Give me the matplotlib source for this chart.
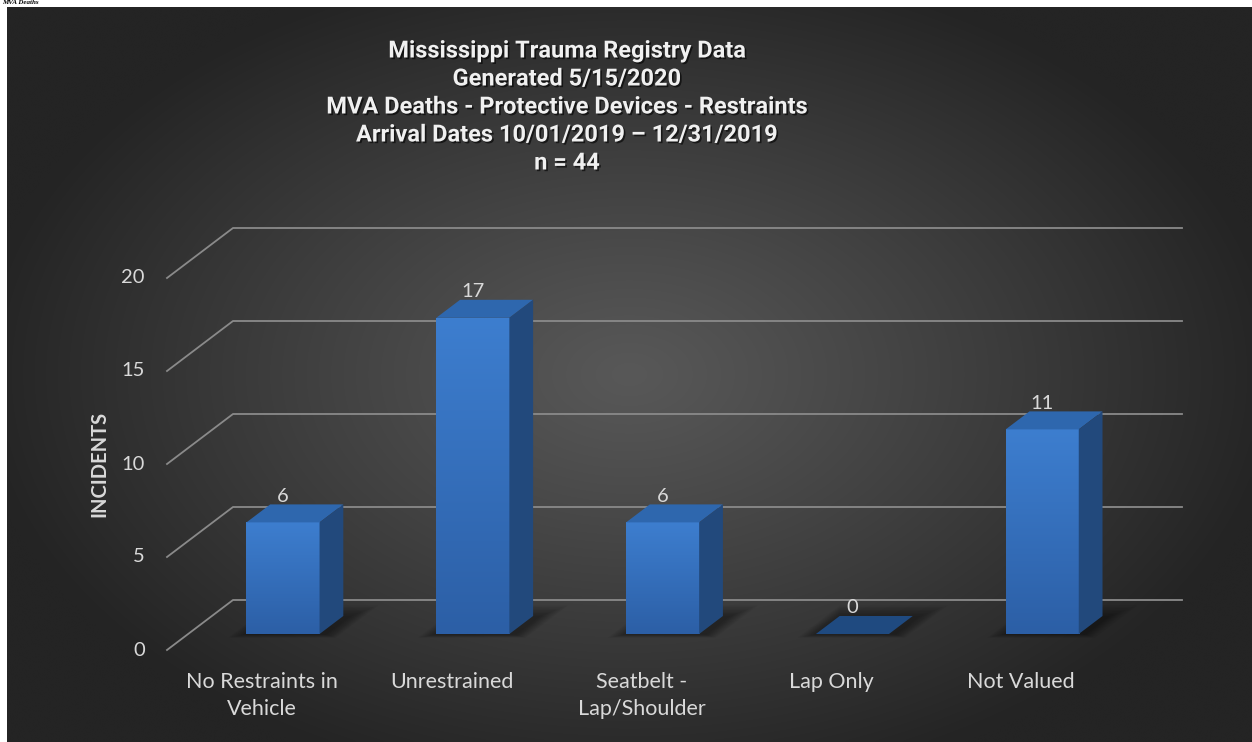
import numpy as np
import matplotlib.pyplot as plt
from matplotlib.patches import Polygon
from matplotlib import patheffects as pe

# chart data
categories = ['No Restraints in\nVehicle', 'Unrestrained', 'Seatbelt -\nLap/Shoulder', 'Lap Only', 'Not Valued']
incidents = [6, 17, 6, 0, 11]
y_ticks = [0, 5, 10, 15, 20]
title_lines = ['Mississippi Trauma Registry Data',
               'Generated 5/15/2020',
               'MVA Deaths - Protective Devices - Restraints',
               'Arrival Dates 10/01/2019 \u2013 12/31/2019',
               'n = 44']

W, H = 1252, 742
fig = plt.figure(figsize=(W / 100, H / 100), dpi=100, facecolor='white')

# dark panel with radial gradient
bg = fig.add_axes([7 / W, 0, 1 - 7 / W, (H - 7) / H])
bg.set_axis_off()
gx, gy = np.meshgrid(np.linspace(-1, 1, 400), np.linspace(-1, 1, 240))
r = np.clip(np.sqrt((gx / 1.05) ** 2 + (gy / 1.15) ** 2), 0, 1)
c0, c1 = np.array([0x58, 0x58, 0x58]) / 255, np.array([0x24, 0x24, 0x24]) / 255
img = c0 + (c1 - c0) * (r[..., None] ** 1.1)
bg.imshow(img, aspect='auto', extent=[0, 1, 0, 1], interpolation='bicubic')

# heading of the page above the chart (squeezed into the white strip)
fig.text(2 / W, 1, 'MVA Deaths', fontsize=5, fontweight='bold', style='italic',
         family='Liberation Serif', color='black', va='top')

# back wall of the 3d chart
ax = fig.add_axes([233 / W, (H - 600) / H, 949 / W, 372 / H])
ax.set_axis_off()
ax.set_xlim(-0.5, 4.5)
ax.set_ylim(0, 20)

DX = 66 / 189.8   # full depth shift in x data units
DY = 50 / 18.6    # full depth shift in y data units
ZF, ZB = 0.68, 0.32
BW = 0.385


def proj(x, y, z):
    return x - z * DX, y - z * DY


grid_col = '#8a8a8a'
for v in y_ticks:
    x0, y0 = proj(-0.5, v, 1)
    x1, y1 = proj(-0.5, v, 0)
    x2, y2 = proj(4.5, v, 0)
    ax.plot([x0, x1, x2], [y0, y1, y2], color=grid_col, lw=1.3, clip_on=False, zorder=1)
    ax.annotate(str(v), (x0, y0), xytext=(-16, 0), textcoords='offset points',
                ha='right', va='center', fontsize=14.5, family='Lato', color='#d9d9d9',
                annotation_clip=False)

lx0, ly0 = proj(-0.5, 10, 1)
ax.text(lx0 - 68 / 189.8, ly0, 'INCIDENTS', rotation=90, fontsize=14.5, fontweight='bold',
        family='Lato', color='#d9d9d9', ha='center', va='center')

# soft shadows on the floor
for i, v in enumerate(incidents):
    for k in range(8):
        e = 0.01 * k
        ez = 0.03 * k
        pts = [proj(i - BW / 2 - e, 0, ZF + 0.01 + ez * 0.3),
               proj(i + BW / 2 + e + 0.04, 0, ZF + 0.01 + ez * 0.3),
               proj(i + BW / 2 + e + 0.04, 0, ZB - ez),
               proj(i - BW / 2 - e, 0, ZB - ez)]
        ax.add_patch(Polygon(pts, closed=True, facecolor='black', edgecolor='none',
                             alpha=0.05, zorder=2, clip_on=False))

# bars: front faces through ax.bar, shifted to their depth
xs = np.arange(len(incidents))
fx, fy = proj(xs, 0, ZF)
bars = ax.bar(fx, incidents, width=BW, bottom=fy, color='#3571c0', edgecolor='none',
              zorder=4, clip_on=False)
grad = np.linspace(0, 1, 100)[:, None]
top_c, bot_c = np.array([0x3d, 0x7e, 0xcf]) / 255, np.array([0x2c, 0x5f, 0xa6]) / 255
gimg = top_c + (bot_c - top_c) * grad[..., None]
for b, v in zip(bars, incidents):
    if v <= 0:
        b.set_visible(False)
        continue
    x0 = b.get_x()
    im = ax.imshow(gimg, extent=[x0, x0 + b.get_width(), b.get_y(), b.get_y() + v],
                   aspect='auto', zorder=4.5, interpolation='bilinear')
    im.set_clip_path(b)
ax.set_xlim(-0.5, 4.5)
ax.set_ylim(0, 20)

for i, v in enumerate(incidents):
    top = [proj(i - BW / 2, v, ZF), proj(i + BW / 2, v, ZF),
           proj(i + BW / 2, v, ZB), proj(i - BW / 2, v, ZB)]
    ax.add_patch(Polygon(top, closed=True, facecolor='#2e67ae' if v > 0 else '#1f4a80',
                         edgecolor='none', zorder=5, clip_on=False))
    if v > 0:
        side = [proj(i + BW / 2, 0, ZF), proj(i + BW / 2, v, ZF),
                proj(i + BW / 2, v, ZB), proj(i + BW / 2, 0, ZB)]
        ax.add_patch(Polygon(side, closed=True, facecolor='#22497c', edgecolor='none',
                             zorder=5, clip_on=False))
    lx = proj(i, v, ZF)[0]
    ly = proj(i, v, ZB)[1]
    ax.annotate(str(v), (lx, ly), xytext=(0, 6), textcoords='offset points',
                ha='center', va='center', fontsize=14.5, family='Lato', color='#d9d9d9',
                zorder=6, annotation_clip=False)

# category labels on the front edge of the floor
for i, lab in enumerate(categories):
    cx, cy = proj(i, 0, 1)
    ax.annotate(lab, (cx, cy), xytext=(0, -16), textcoords='offset points',
                ha='center', va='top', fontsize=15.5, family='Lato', color='#d9d9d9',
                linespacing=1.45, annotation_clip=False)

# title
shadow = [pe.withSimplePatchShadow(offset=(1.2, -1.2), shadow_rgbFace='black', alpha=0.6)]
for k, line in enumerate(title_lines):
    fig.text(567 / W, 1 - (51 + 28 * k) / H, line, ha='center', va='center',
             fontsize=17, fontweight='bold',
             family=['Roboto', 'Liberation Sans'],
             color='#f0f0f0', path_effects=shadow)

fig.savefig('out.png', dpi=100, facecolor='white')
